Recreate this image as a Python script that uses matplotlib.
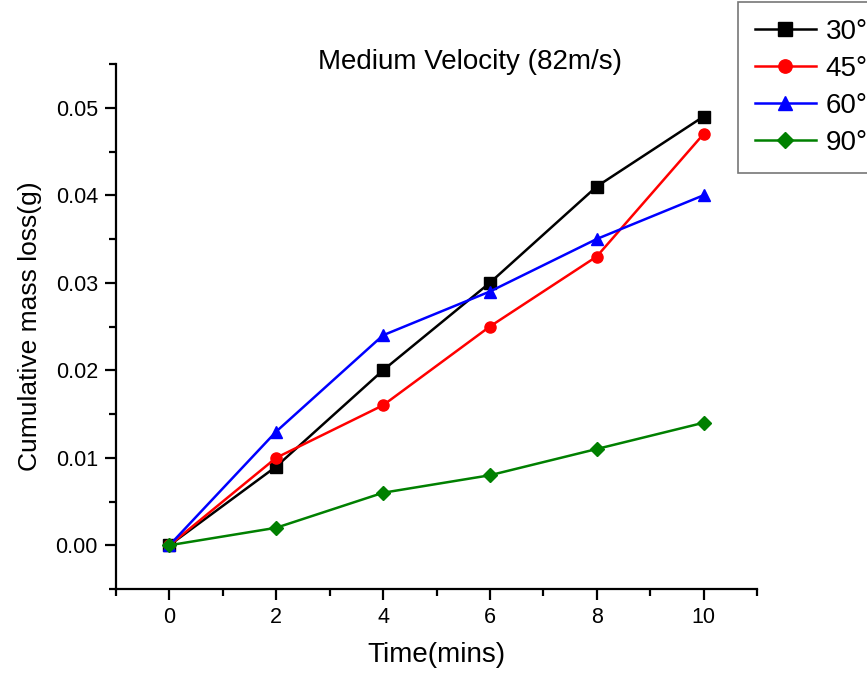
import matplotlib
matplotlib.use("Agg")
import matplotlib.pyplot as plt
from matplotlib.ticker import MultipleLocator, FormatStrFormatter

plt.rcParams["font.family"] = ["Liberation Sans", "DejaVu Sans"]

time_mins = [0, 2, 4, 6, 8, 10]
loss_30 = [0.0, 0.009, 0.020, 0.030, 0.041, 0.049]
loss_45 = [0.0, 0.010, 0.016, 0.025, 0.033, 0.047]
loss_60 = [0.0, 0.013, 0.024, 0.029, 0.035, 0.040]
loss_90 = [0.0, 0.002, 0.006, 0.008, 0.011, 0.014]
angle_labels = ["30°", "45°", "60°", "90°"]

series = [
    (loss_30, "black", "s"),
    (loss_45, "#ff0000", "o"),
    (loss_60, "#0000ff", "^"),
    (loss_90, "#008000", "D"),
]

fig = plt.figure(figsize=(8.67, 6.81), dpi=100)
ax = fig.add_axes([116 / 867, 1 - 589 / 681, (757 - 116) / 867, (589 - 64) / 681])

for (values, color, marker), label in zip(series, angle_labels):
    ax.plot(time_mins, values, color=color, marker=marker, markersize=8 if marker != "D" else 7,
            linewidth=1.8, label=label)

ax.set_xlim(-1, 11)
ax.set_ylim(-0.005, 0.055)
ax.xaxis.set_major_locator(MultipleLocator(2))
ax.xaxis.set_minor_locator(MultipleLocator(1))
ax.yaxis.set_major_locator(MultipleLocator(0.01))
ax.yaxis.set_minor_locator(MultipleLocator(0.005))
ax.yaxis.set_major_formatter(FormatStrFormatter("%.2f"))

for side in ("top", "right"):
    ax.spines[side].set_visible(False)
for side in ("left", "bottom"):
    ax.spines[side].set_linewidth(1.6)
ax.tick_params(which="major", direction="out", length=8, width=1.6, labelsize=15.5, pad=5)
ax.tick_params(which="minor", direction="out", length=5, width=1.6)

ax.set_xlabel("Time(mins)", fontsize=20, labelpad=10)
ax.set_ylabel("Cumulative mass loss(g)", fontsize=19, labelpad=10)

fig.text(470 / 867, 1 - 62 / 681, "Medium Velocity (82m/s)", fontsize=20,
         ha="center", va="center")

leg = fig.legend(loc="upper left", bbox_to_anchor=(738 / 867, 1 - 2 / 681),
                 fontsize=20, handlelength=2.2, handletextpad=0.35,
                 labelspacing=0.4, borderpad=0.6, borderaxespad=0,
                 markerscale=1.2, frameon=True, fancybox=False)
leg.get_frame().set_edgecolor("#555555")
leg.get_frame().set_linewidth(1.2)

fig.savefig("out.png", dpi=100)
